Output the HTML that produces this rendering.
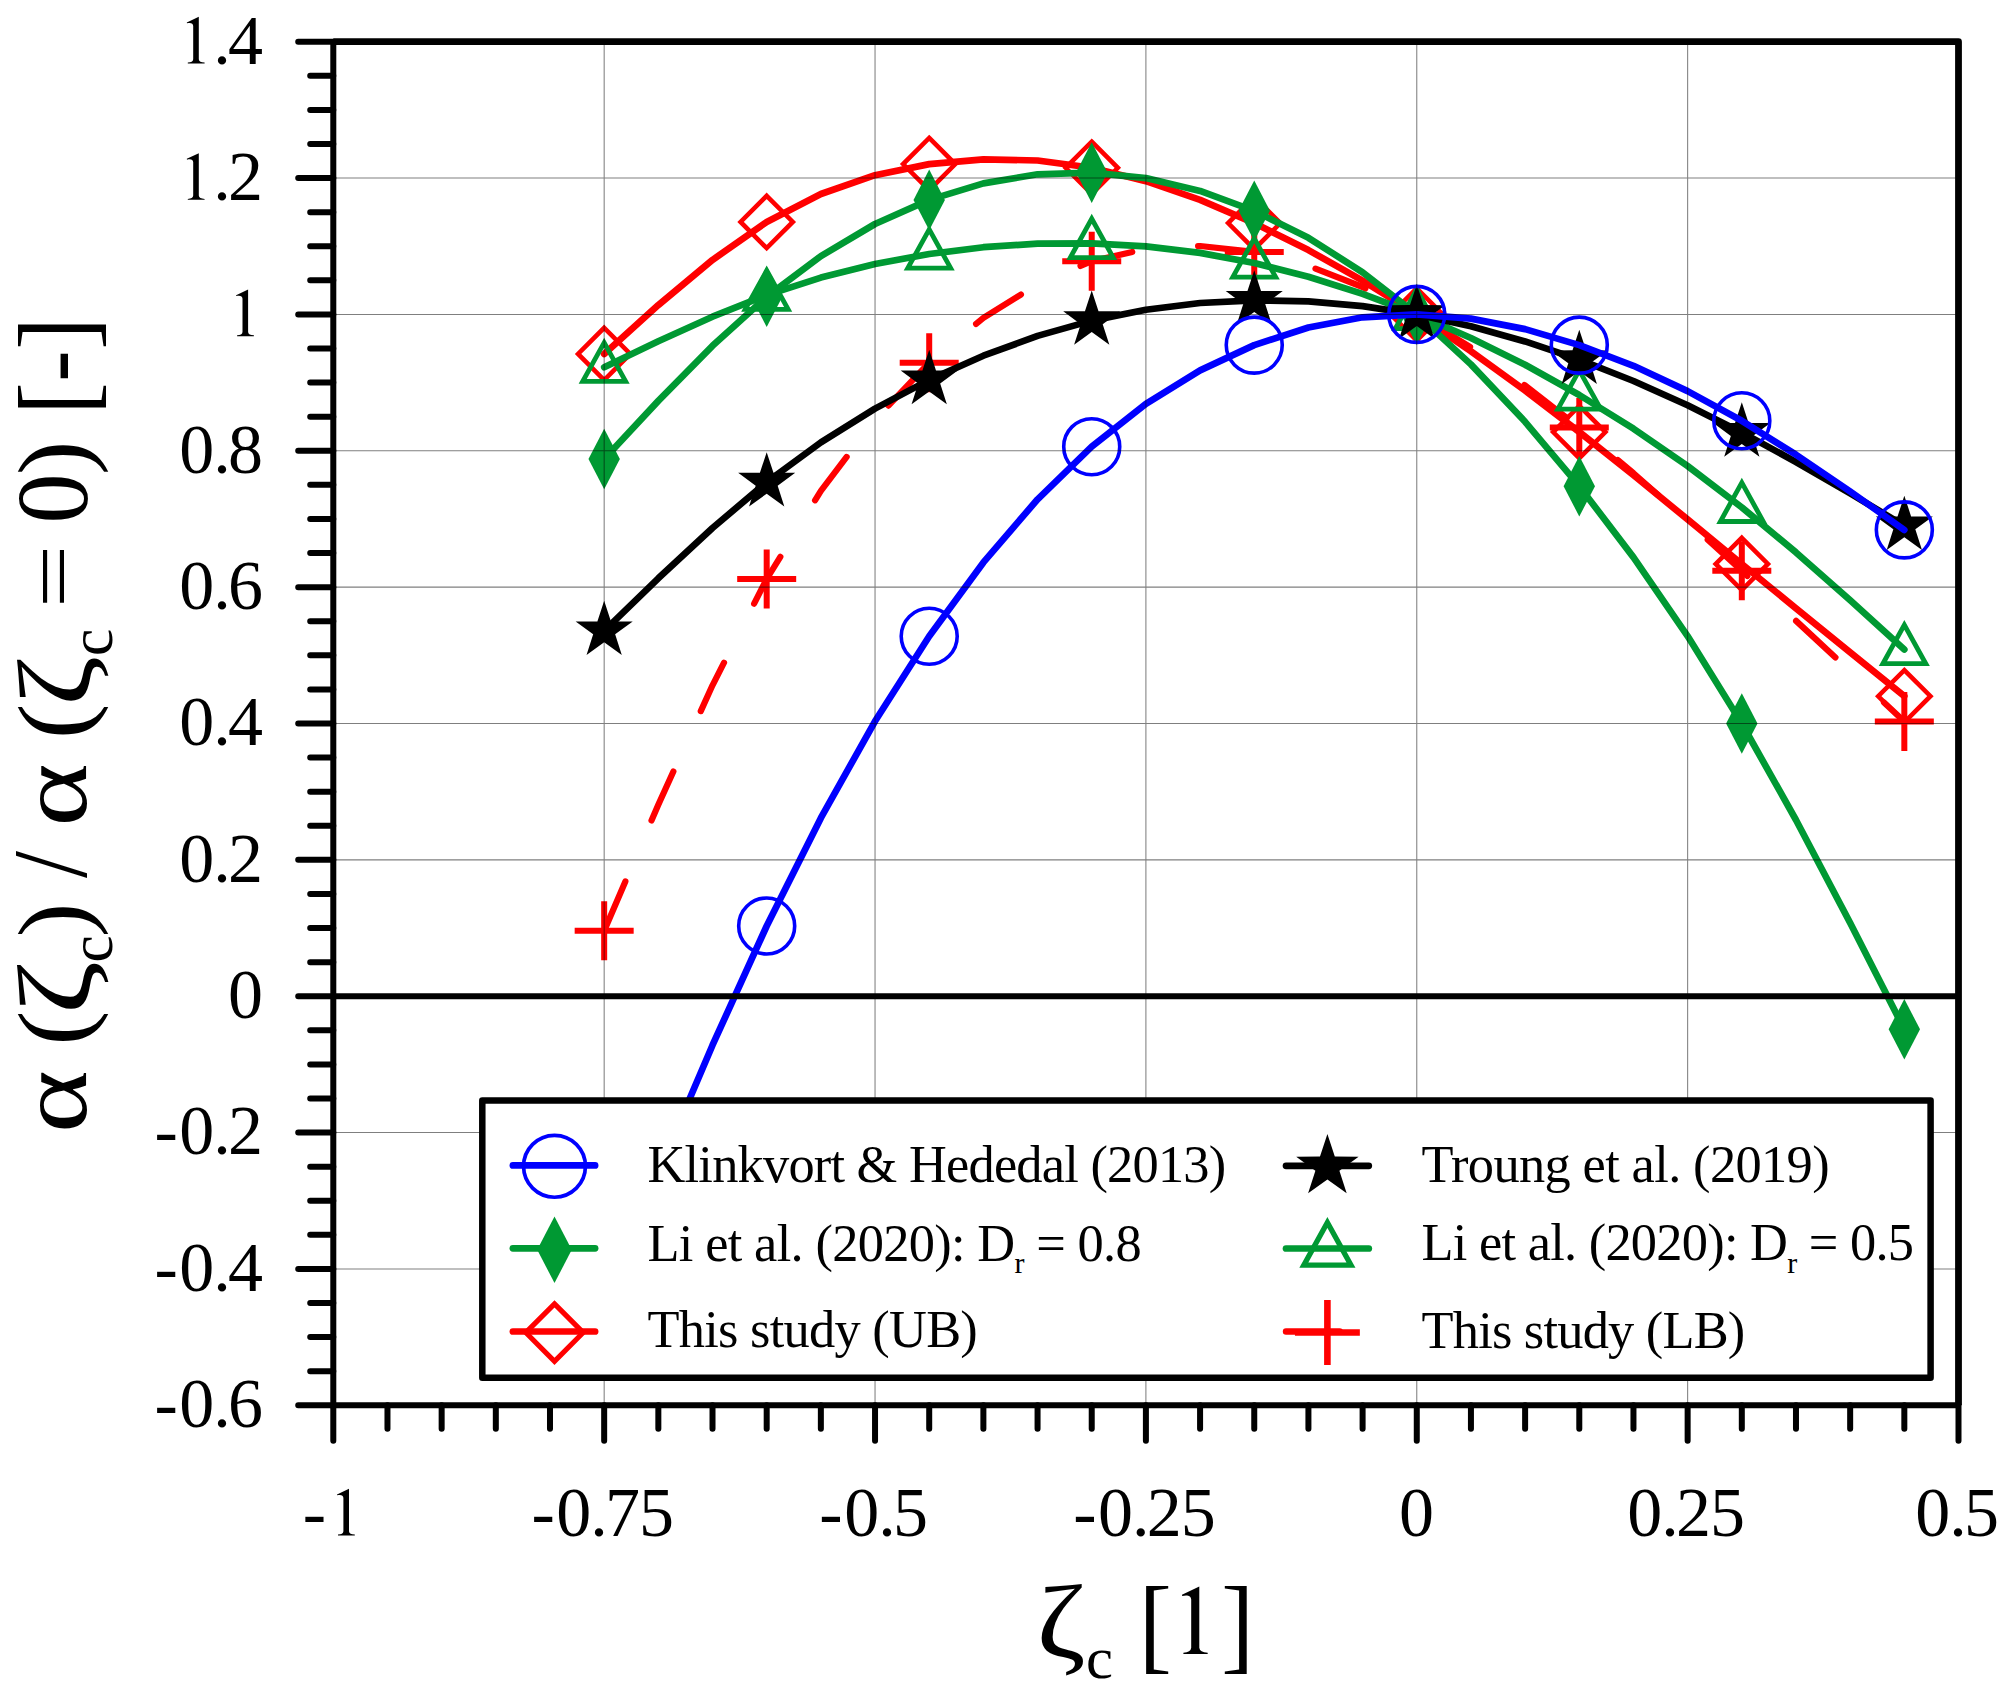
<!DOCTYPE html><html><head><meta charset="utf-8"><style>html,body{margin:0;padding:0;background:#fff;overflow:hidden}svg{display:block}</style></head><body>
<svg width="2013" height="1696" viewBox="0 0 2013 1696">
<rect width="2013" height="1696" fill="#fff"/>
<defs><clipPath id="pc"><rect x="333.30" y="41.70" width="1625.20" height="1363.60"/></clipPath></defs>
<g clip-path="url(#pc)" stroke-linecap="round" stroke-linejoin="round" fill="none">
<path d="M604.2 930.8L658.3 804.7L712.5 685.3L766.7 579.0L820.9 490.8L875.0 419.7L929.2 362.8L983.4 317.9L1037.6 284.1L1091.7 261.2L1145.9 248.8L1200.1 246.0L1254.2 252.0L1308.4 265.9L1362.6 287.0L1416.8 314.4L1470.9 347.5L1525.1 385.4L1579.3 427.6L1633.5 473.2L1687.6 521.3L1741.8 570.8L1796.0 620.8L1850.2 671.1L1904.3 721.5" stroke="#ff0000" stroke-width="6.2" stroke-dasharray="53.7 66.3"/>
<path d="M604.2 354.0L658.3 305.1L712.5 259.9L766.7 222.0L820.9 194.0L875.0 175.2L929.2 164.1L983.4 159.3L1037.6 160.5L1091.7 167.8L1145.9 181.2L1200.1 199.8L1254.2 223.1L1308.4 250.1L1362.6 280.6L1416.8 314.4L1470.9 351.2L1525.1 390.5L1579.3 432.0L1633.5 475.2L1687.6 519.4L1741.8 564.0L1796.0 608.3L1850.2 652.3L1904.3 696.2" stroke="#ff0000" stroke-width="6.7"/>
</g>
<path d="M574.67 930.77H633.67M604.17 901.27V960.27" stroke="#ff0000" stroke-width="6.00" fill="none"/>
<path d="M737.19 578.96H796.19M766.69 549.46V608.46" stroke="#ff0000" stroke-width="6.00" fill="none"/>
<path d="M899.71 362.83H958.71M929.21 333.33V392.33" stroke="#ff0000" stroke-width="6.00" fill="none"/>
<path d="M1062.23 261.24H1121.23M1091.73 231.74V290.74" stroke="#ff0000" stroke-width="6.00" fill="none"/>
<path d="M1224.75 251.97H1283.75M1254.25 222.47V281.47" stroke="#ff0000" stroke-width="6.00" fill="none"/>
<path d="M1387.27 314.42H1446.27M1416.77 284.92V343.92" stroke="#ff0000" stroke-width="6.00" fill="none"/>
<path d="M1549.79 427.60H1608.79M1579.29 398.10V457.10" stroke="#ff0000" stroke-width="6.00" fill="none"/>
<path d="M1712.31 570.78H1771.31M1741.81 541.28V600.28" stroke="#ff0000" stroke-width="6.00" fill="none"/>
<path d="M1874.83 721.45H1933.83M1904.33 691.95V750.95" stroke="#ff0000" stroke-width="6.00" fill="none"/>
<polygon points="604.17,327.86 630.27,353.96 604.17,380.06 578.07,353.96" fill="none" stroke="#ff0000" stroke-width="4.60" stroke-miterlimit="10"/>
<polygon points="766.69,195.87 792.79,221.97 766.69,248.07 740.59,221.97" fill="none" stroke="#ff0000" stroke-width="4.60" stroke-miterlimit="10"/>
<polygon points="929.21,137.98 955.31,164.08 929.21,190.18 903.11,164.08" fill="none" stroke="#ff0000" stroke-width="4.60" stroke-miterlimit="10"/>
<polygon points="1091.73,141.73 1117.83,167.83 1091.73,193.93 1065.63,167.83" fill="none" stroke="#ff0000" stroke-width="4.60" stroke-miterlimit="10"/>
<polygon points="1254.25,196.96 1280.35,223.06 1254.25,249.16 1228.15,223.06" fill="none" stroke="#ff0000" stroke-width="4.60" stroke-miterlimit="10"/>
<polygon points="1416.77,288.32 1442.87,314.42 1416.77,340.52 1390.67,314.42" fill="none" stroke="#ff0000" stroke-width="4.60" stroke-miterlimit="10"/>
<polygon points="1579.29,405.93 1605.39,432.03 1579.29,458.13 1553.19,432.03" fill="none" stroke="#ff0000" stroke-width="4.60" stroke-miterlimit="10"/>
<polygon points="1741.81,537.86 1767.91,563.96 1741.81,590.06 1715.71,563.96" fill="none" stroke="#ff0000" stroke-width="4.60" stroke-miterlimit="10"/>
<polygon points="1904.33,670.13 1930.43,696.23 1904.33,722.33 1878.23,696.23" fill="none" stroke="#ff0000" stroke-width="4.60" stroke-miterlimit="10"/>
<g stroke-linecap="round" stroke-linejoin="round" fill="none">
<path d="M604.2 367.2L658.3 341.2L712.5 316.7L766.7 295.1L820.9 277.6L875.0 264.0L929.2 254.0L983.4 247.2L1037.6 243.7L1091.7 243.4L1145.9 246.4L1200.1 252.9L1254.2 263.0L1308.4 276.7L1362.6 293.9L1416.8 314.4L1470.9 338.0L1525.1 364.8L1579.3 395.0L1633.5 428.7L1687.6 466.0L1741.8 507.3L1796.0 552.4L1850.2 600.3L1904.3 649.5" stroke="#009933" stroke-width="6.7"/>
<path d="M604.2 459.0L658.3 400.9L712.5 345.8L766.7 296.7L820.9 256.1L875.0 224.0L929.2 199.9L983.4 183.4L1037.6 174.3L1091.7 172.6L1145.9 178.1L1200.1 190.9L1254.2 210.8L1308.4 237.8L1362.6 272.3L1416.8 314.4L1470.9 364.4L1525.1 421.8L1579.3 486.2L1633.5 557.4L1687.6 636.1L1741.8 723.5L1796.0 820.0L1850.2 923.0L1904.3 1029.3" stroke="#009933" stroke-width="6.7"/>
</g>
<polygon points="604.17,342.59 625.62,381.39 582.72,381.39" fill="none" stroke="#009933" stroke-width="4.80" stroke-miterlimit="10"/>
<polygon points="766.69,270.53 788.14,309.33 745.24,309.33" fill="none" stroke="#009933" stroke-width="4.80" stroke-miterlimit="10"/>
<polygon points="929.21,229.41 950.66,268.21 907.76,268.21" fill="none" stroke="#009933" stroke-width="4.80" stroke-miterlimit="10"/>
<polygon points="1091.73,218.78 1113.18,257.58 1070.28,257.58" fill="none" stroke="#009933" stroke-width="4.80" stroke-miterlimit="10"/>
<polygon points="1254.25,238.41 1275.70,277.21 1232.80,277.21" fill="none" stroke="#009933" stroke-width="4.80" stroke-miterlimit="10"/>
<polygon points="1416.77,289.82 1438.22,328.62 1395.32,328.62" fill="none" stroke="#009933" stroke-width="4.80" stroke-miterlimit="10"/>
<polygon points="1579.29,370.41 1600.74,409.21 1557.84,409.21" fill="none" stroke="#009933" stroke-width="4.80" stroke-miterlimit="10"/>
<polygon points="1741.81,482.70 1763.26,521.50 1720.36,521.50" fill="none" stroke="#009933" stroke-width="4.80" stroke-miterlimit="10"/>
<polygon points="1904.33,624.92 1925.78,663.72 1882.88,663.72" fill="none" stroke="#009933" stroke-width="4.80" stroke-miterlimit="10"/>
<polygon points="604.17,428.66 619.87,458.96 604.17,489.26 588.47,458.96" fill="#009933"/>
<polygon points="766.69,266.39 782.39,296.69 766.69,326.99 750.99,296.69" fill="#009933"/>
<polygon points="929.21,169.58 944.91,199.88 929.21,230.18 913.51,199.88" fill="#009933"/>
<polygon points="1091.73,142.31 1107.43,172.61 1091.73,202.91 1076.03,172.61" fill="#009933"/>
<polygon points="1254.25,180.49 1269.95,210.79 1254.25,241.09 1238.55,210.79" fill="#009933"/>
<polygon points="1416.77,284.12 1432.47,314.42 1416.77,344.72 1401.07,314.42" fill="#009933"/>
<polygon points="1579.29,455.93 1594.99,486.23 1579.29,516.53 1563.59,486.23" fill="#009933"/>
<polygon points="1741.81,693.20 1757.51,723.50 1741.81,753.80 1726.11,723.50" fill="#009933"/>
<polygon points="1904.33,998.99 1920.03,1029.29 1904.33,1059.59 1888.63,1029.29" fill="#009933"/>
<path d="M604.2 630.8L658.3 578.3L712.5 528.0L766.7 482.1L820.9 442.4L875.0 408.6L929.2 379.9L983.4 355.7L1037.6 335.9L1091.7 320.6L1145.9 309.7L1200.1 303.0L1254.2 300.4L1308.4 301.4L1362.6 306.1L1416.8 314.4L1470.9 326.2L1525.1 341.4L1579.3 359.7L1633.5 381.0L1687.6 405.3L1741.8 432.4L1796.0 462.0L1850.2 493.4L1904.3 525.8" stroke="#000000" stroke-width="6.7" stroke-linecap="round" stroke-linejoin="round" fill="none"/>
<polygon points="604.17,600.78 610.96,621.43 632.70,621.50 615.15,634.34 621.80,655.05 604.17,642.33 586.53,655.05 593.18,634.34 575.64,621.50 597.38,621.43" fill="#000"/>
<polygon points="766.69,452.14 773.48,472.80 795.22,472.87 777.67,485.71 784.32,506.41 766.69,493.69 749.05,506.41 755.70,485.71 738.16,472.87 759.90,472.80" fill="#000"/>
<polygon points="929.21,349.87 936.00,370.53 957.74,370.60 940.19,383.44 946.84,404.14 929.21,391.42 911.57,404.14 918.22,383.44 900.68,370.60 922.42,370.53" fill="#000"/>
<polygon points="1091.73,290.56 1098.52,311.21 1120.26,311.29 1102.71,324.13 1109.36,344.83 1091.73,332.11 1074.10,344.83 1080.74,324.13 1063.20,311.29 1084.94,311.21" fill="#000"/>
<polygon points="1254.25,270.37 1261.04,291.03 1282.78,291.10 1265.23,303.94 1271.88,324.65 1254.25,311.92 1236.62,324.65 1243.26,303.94 1225.72,291.10 1247.46,291.03" fill="#000"/>
<polygon points="1416.77,284.42 1423.56,305.08 1445.30,305.15 1427.75,317.99 1434.40,338.69 1416.77,325.97 1399.14,338.69 1405.79,317.99 1388.24,305.15 1409.98,305.08" fill="#000"/>
<polygon points="1579.29,329.69 1586.08,350.35 1607.82,350.42 1590.28,363.26 1596.92,383.96 1579.29,371.24 1561.66,383.96 1568.31,363.26 1550.76,350.42 1572.50,350.35" fill="#000"/>
<polygon points="1741.81,402.37 1748.60,423.03 1770.34,423.10 1752.80,435.94 1759.44,456.64 1741.81,443.92 1724.18,456.64 1730.83,435.94 1713.28,423.10 1735.02,423.03" fill="#000"/>
<polygon points="1904.33,495.78 1911.12,516.43 1932.86,516.51 1915.32,529.35 1921.97,550.05 1904.33,537.33 1886.70,550.05 1893.35,529.35 1875.80,516.51 1897.54,516.43" fill="#000"/>
<path d="M604.2 1303.0L658.3 1172.1L712.5 1045.2L766.7 926.0L820.9 817.9L875.0 721.3L929.2 636.2L983.4 562.4L1037.6 499.3L1091.7 446.7L1145.9 403.9L1200.1 370.4L1254.2 345.1L1308.4 327.5L1362.6 317.3L1416.8 314.4L1470.9 318.6L1525.1 329.1L1579.3 345.1L1633.5 365.8L1687.6 391.1L1741.8 420.8L1796.0 454.7L1850.2 491.5L1904.3 529.9" stroke="#0000ff" stroke-width="6.7" stroke-linecap="round" stroke-linejoin="round" fill="none"/>
<circle cx="766.69" cy="925.99" r="28.00" fill="none" stroke="#0000ff" stroke-width="3.60"/>
<circle cx="929.21" cy="636.23" r="28.00" fill="none" stroke="#0000ff" stroke-width="3.60"/>
<circle cx="1091.73" cy="446.69" r="28.00" fill="none" stroke="#0000ff" stroke-width="3.60"/>
<circle cx="1254.25" cy="345.10" r="28.00" fill="none" stroke="#0000ff" stroke-width="3.60"/>
<circle cx="1416.77" cy="314.42" r="28.00" fill="none" stroke="#0000ff" stroke-width="3.60"/>
<circle cx="1579.29" cy="345.10" r="28.00" fill="none" stroke="#0000ff" stroke-width="3.60"/>
<circle cx="1741.81" cy="420.78" r="28.00" fill="none" stroke="#0000ff" stroke-width="3.60"/>
<circle cx="1904.33" cy="529.87" r="28.00" fill="none" stroke="#0000ff" stroke-width="3.60"/>
<path d="M604.17 41.70V1405.30M875.04 41.70V1405.30M1145.90 41.70V1405.30M1416.77 41.70V1405.30M1687.64 41.70V1405.30M333.30 178.06H1958.50M333.30 314.42H1958.50M333.30 450.78H1958.50M333.30 587.14H1958.50M333.30 723.50H1958.50M333.30 859.86H1958.50M333.30 1132.58H1958.50M333.30 1268.94H1958.50" stroke="#000" stroke-opacity="0.5" stroke-width="1.05" fill="none"/>
<path d="M333.30 996.22H1958.50" stroke="#000" stroke-width="6" fill="none"/>
<rect x="482.3" y="1100.6" width="1448.3" height="277.2" fill="#fff" stroke="#000" stroke-width="6.5" stroke-linejoin="round"/>
<path d="M512.9 1165.4H595.1" stroke="#0000ff" stroke-width="6.7" stroke-linecap="round"/>
<circle cx="554.50" cy="1166.30" r="30.93" fill="none" stroke="#0000ff" stroke-width="3.70"/>
<path d="M512.9 1248.3H595.1" stroke="#009933" stroke-width="6.7" stroke-linecap="round"/>
<polygon points="554.50,1216.42 571.77,1249.75 554.50,1283.08 537.23,1249.75" fill="#009933"/>
<path d="M512.9 1331.5H595.1" stroke="#ff0000" stroke-width="6.7" stroke-linecap="round"/>
<polygon points="554.50,1303.89 583.21,1332.60 554.50,1361.31 525.79,1332.60" fill="none" stroke="#ff0000" stroke-width="5.06" stroke-miterlimit="10"/>
<path d="M1286.0 1165.8H1368.8" stroke="#000000" stroke-width="6.7" stroke-linecap="round"/>
<polygon points="1327.40,1134.00 1334.82,1156.58 1358.59,1156.66 1339.41,1170.70 1346.68,1193.34 1327.40,1179.43 1308.12,1193.34 1315.39,1170.70 1296.21,1156.66 1319.98,1156.58" fill="#000"/>
<path d="M1286.0 1248.5H1368.8" stroke="#009933" stroke-width="6.7" stroke-linecap="round"/>
<polygon points="1327.40,1222.54 1351.00,1265.22 1303.81,1265.22" fill="none" stroke="#009933" stroke-width="5.28" stroke-miterlimit="10"/>
<path d="M1286.0 1331.5H1368.8" stroke="#ff0000" stroke-width="6.4" stroke-linecap="round" stroke-dasharray="53.7 66.3"/>
<path d="M1294.95 1332.50H1359.85M1327.40 1300.05V1364.95" stroke="#ff0000" stroke-width="6.60" fill="none"/>
<text x="647.5" y="1182.2" font-family="Liberation Serif" font-size="52.4" textLength="578.7" lengthAdjust="spacing">Klinkvort &amp; Hededal (2013)</text>
<text x="647.5" y="1260.6" font-family="Liberation Serif" font-size="52.4" textLength="494.2" lengthAdjust="spacing">Li et al. (2020): D<tspan font-size="30" dy="12.7">r</tspan><tspan dy="-12.7"> = 0.8</tspan></text>
<text x="647.5" y="1347.4" font-family="Liberation Serif" font-size="52.4" textLength="330.3" lengthAdjust="spacing">This study (UB)</text>
<text x="1421.5" y="1182.0" font-family="Liberation Serif" font-size="52.4" textLength="408.1" lengthAdjust="spacing">Troung et al. (2019)</text>
<text x="1421.5" y="1260.4" font-family="Liberation Serif" font-size="52.4" textLength="492.5" lengthAdjust="spacing">Li et al. (2020): D<tspan font-size="30" dy="12.7">r</tspan><tspan dy="-12.7"> = 0.5</tspan></text>
<text x="1421.5" y="1347.5" font-family="Liberation Serif" font-size="52.4" textLength="323.8" lengthAdjust="spacing">This study (LB)</text>
<path d="M333.30 41.70H1958.50V1405.30" fill="none" stroke="#000" stroke-width="6.8" stroke-linejoin="round"/>
<path d="M333.30 41.70V1405.30H1958.50" fill="none" stroke="#000" stroke-width="6"/>
<path d="M298.20 41.70H333.30M310.20 75.79H333.30M310.20 109.88H333.30M310.20 143.97H333.30M298.20 178.06H333.30M310.20 212.15H333.30M310.20 246.24H333.30M310.20 280.33H333.30M298.20 314.42H333.30M310.20 348.51H333.30M310.20 382.60H333.30M310.20 416.69H333.30M298.20 450.78H333.30M310.20 484.87H333.30M310.20 518.96H333.30M310.20 553.05H333.30M298.20 587.14H333.30M310.20 621.23H333.30M310.20 655.32H333.30M310.20 689.41H333.30M298.20 723.50H333.30M310.20 757.59H333.30M310.20 791.68H333.30M310.20 825.77H333.30M298.20 859.86H333.30M310.20 893.95H333.30M310.20 928.04H333.30M310.20 962.13H333.30M298.20 996.22H333.30M310.20 1030.31H333.30M310.20 1064.40H333.30M310.20 1098.49H333.30M298.20 1132.58H333.30M310.20 1166.67H333.30M310.20 1200.76H333.30M310.20 1234.85H333.30M298.20 1268.94H333.30M310.20 1303.03H333.30M310.20 1337.12H333.30M310.20 1371.21H333.30M298.20 1405.30H333.30M333.30 1405.30V1440.80M387.47 1405.30V1428.80M441.65 1405.30V1428.80M495.82 1405.30V1428.80M549.99 1405.30V1428.80M604.17 1405.30V1440.80M658.34 1405.30V1428.80M712.51 1405.30V1428.80M766.69 1405.30V1428.80M820.86 1405.30V1428.80M875.04 1405.30V1440.80M929.21 1405.30V1428.80M983.38 1405.30V1428.80M1037.56 1405.30V1428.80M1091.73 1405.30V1428.80M1145.90 1405.30V1440.80M1200.08 1405.30V1428.80M1254.25 1405.30V1428.80M1308.42 1405.30V1428.80M1362.60 1405.30V1428.80M1416.77 1405.30V1440.80M1470.94 1405.30V1428.80M1525.12 1405.30V1428.80M1579.29 1405.30V1428.80M1633.46 1405.30V1428.80M1687.64 1405.30V1440.80M1741.81 1405.30V1428.80M1795.98 1405.30V1428.80M1850.16 1405.30V1428.80M1904.33 1405.30V1428.80M1958.50 1405.30V1440.80" stroke="#000" stroke-width="6" stroke-linecap="round" fill="none"/>
<text x="213.3 228.0" y="63.5" font-family="Liberation Serif" font-size="70">.4</text><path transform="translate(193.20 63.50) scale(1.0000)" d="M5.6 -46.7L5.6 -4.3Q5.9 -1.1 11.4 -0.9L11.4 0L-5.4 0L-5.4 -0.9Q-0.3 -1.1 0 -4.3L0 -37.5C0 -40.5 -2.8 -41.0 -6.2 -40.2L-6.4 -41.0Z" fill="#000"/>
<text x="213.3 228.0" y="199.9" font-family="Liberation Serif" font-size="70">.2</text><path transform="translate(193.20 199.86) scale(1.0000)" d="M5.6 -46.7L5.6 -4.3Q5.9 -1.1 11.4 -0.9L11.4 0L-5.4 0L-5.4 -0.9Q-0.3 -1.1 0 -4.3L0 -37.5C0 -40.5 -2.8 -41.0 -6.2 -40.2L-6.4 -41.0Z" fill="#000"/>
<path transform="translate(242.50 336.22) scale(1.0000)" d="M5.6 -46.7L5.6 -4.3Q5.9 -1.1 11.4 -0.9L11.4 0L-5.4 0L-5.4 -0.9Q-0.3 -1.1 0 -4.3L0 -37.5C0 -40.5 -2.8 -41.0 -6.2 -40.2L-6.4 -41.0Z" fill="#000"/>
<text x="179.3 213.3 228.0" y="472.6" font-family="Liberation Serif" font-size="70">0.8</text>
<text x="179.3 213.3 228.0" y="608.9" font-family="Liberation Serif" font-size="70">0.6</text>
<text x="179.3 213.3 228.0" y="745.3" font-family="Liberation Serif" font-size="70">0.4</text>
<text x="179.3 213.3 228.0" y="881.7" font-family="Liberation Serif" font-size="70">0.2</text>
<text x="228.0" y="1018.0" font-family="Liberation Serif" font-size="70">0</text>
<text x="154.4 179.3 213.3 228.0" y="1154.4" font-family="Liberation Serif" font-size="70">-0.2</text>
<text x="154.4 179.3 213.3 228.0" y="1290.7" font-family="Liberation Serif" font-size="70">-0.4</text>
<text x="154.4 179.3 213.3 228.0" y="1427.1" font-family="Liberation Serif" font-size="70">-0.6</text>
<text x="302.7" y="1535.5" font-family="Liberation Serif" font-size="70">-</text><path transform="translate(343.40 1535.50) scale(1.0000)" d="M5.6 -46.7L5.6 -4.3Q5.9 -1.1 11.4 -0.9L11.4 0L-5.4 0L-5.4 -0.9Q-0.3 -1.1 0 -4.3L0 -37.5C0 -40.5 -2.8 -41.0 -6.2 -40.2L-6.4 -41.0Z" fill="#000"/>
<text x="531.4 556.3 590.3 605.0 639.0" y="1535.5" font-family="Liberation Serif" font-size="70">-0.75</text>
<text x="819.3 844.2 878.2 892.9" y="1535.5" font-family="Liberation Serif" font-size="70">-0.5</text>
<text x="1073.2 1098.1 1132.1 1146.8 1180.8" y="1535.5" font-family="Liberation Serif" font-size="70">-0.25</text>
<text x="1399.0" y="1535.5" font-family="Liberation Serif" font-size="70">0</text>
<text x="1627.3 1661.3 1676.0 1710.0" y="1535.5" font-family="Liberation Serif" font-size="70">0.25</text>
<text x="1915.2 1949.2 1963.9" y="1535.5" font-family="Liberation Serif" font-size="70">0.5</text>
<text transform="translate(1036.54 1657.32) scale(1.1630 1.0140)" font-family="Liberation Serif" font-size="102.0">ζ</text>
<text transform="translate(1085.88 1678.03) scale(1.0016 0.9694)" font-family="Liberation Serif" font-size="60.7">c</text>
<text transform="translate(1138.63 1659.69) scale(0.9731 1.0341)" font-family="Liberation Serif" font-size="102.0">[</text>
<path transform="translate(1191.20 1654.00) scale(1.4454)" d="M5.6 -46.7L5.6 -4.3Q5.9 -1.1 11.4 -0.9L11.4 0L-5.4 0L-5.4 -0.9Q-0.3 -1.1 0 -4.3L0 -37.5C0 -40.5 -2.8 -41.0 -6.2 -40.2L-6.4 -41.0Z" fill="#000"/>
<text transform="translate(1221.15 1659.69) scale(0.9643 1.0341)" font-family="Liberation Serif" font-size="102.0">]</text>
<text transform="translate(86.05 1133.07) rotate(-90) scale(1.1764 0.9510)" font-family="Liberation Serif" font-size="102.0">α</text>
<text transform="translate(86.95 1045.40) rotate(-90) scale(1.0268 0.9785)" font-family="Liberation Serif" font-size="102.0">(</text>
<text transform="translate(90.00 1014.54) rotate(-90) scale(1.2729 1.0095)" font-family="Liberation Serif" font-size="102.0">ζ</text>
<text transform="translate(111.91 962.44) rotate(-90) scale(1.0104 0.9934)" font-family="Liberation Serif" font-size="60.7">c</text>
<text transform="translate(86.95 937.38) rotate(-90) scale(1.0268 0.9785)" font-family="Liberation Serif" font-size="102.0">)</text>
<text transform="translate(86.48 878.00) rotate(-90) scale(0.9528 1.0288)" font-family="Liberation Serif" font-size="102.0">/</text>
<text transform="translate(86.05 826.82) rotate(-90) scale(1.1890 0.9510)" font-family="Liberation Serif" font-size="102.0">α</text>
<text transform="translate(86.95 739.32) rotate(-90) scale(1.0535 0.9785)" font-family="Liberation Serif" font-size="102.0">(</text>
<text transform="translate(90.00 706.07) rotate(-90) scale(1.1884 1.0095)" font-family="Liberation Serif" font-size="102.0">ζ</text>
<text transform="translate(111.91 656.05) rotate(-90) scale(1.0148 0.9934)" font-family="Liberation Serif" font-size="60.7">c</text>
<text transform="translate(81.09 608.45) rotate(-90) scale(1.1124 0.8000)" font-family="Liberation Serif" font-size="102.0">=</text>
<text transform="translate(86.70 523.61) rotate(-90) scale(0.9808 0.9996)" font-family="Liberation Serif" font-size="102.0">0</text>
<text transform="translate(86.95 475.01) rotate(-90) scale(1.0077 0.9785)" font-family="Liberation Serif" font-size="102.0">)</text>
<text transform="translate(92.42 414.73) rotate(-90) scale(0.9555 1.0389)" font-family="Liberation Serif" font-size="102.0">[</text>
<text transform="translate(87.80 381.80) rotate(-90) scale(0.9247 0.9842)" font-family="Liberation Serif" font-size="102.0">-</text>
<text transform="translate(92.42 349.72) rotate(-90) scale(0.9555 1.0389)" font-family="Liberation Serif" font-size="102.0">]</text>
</svg>
</body></html>
